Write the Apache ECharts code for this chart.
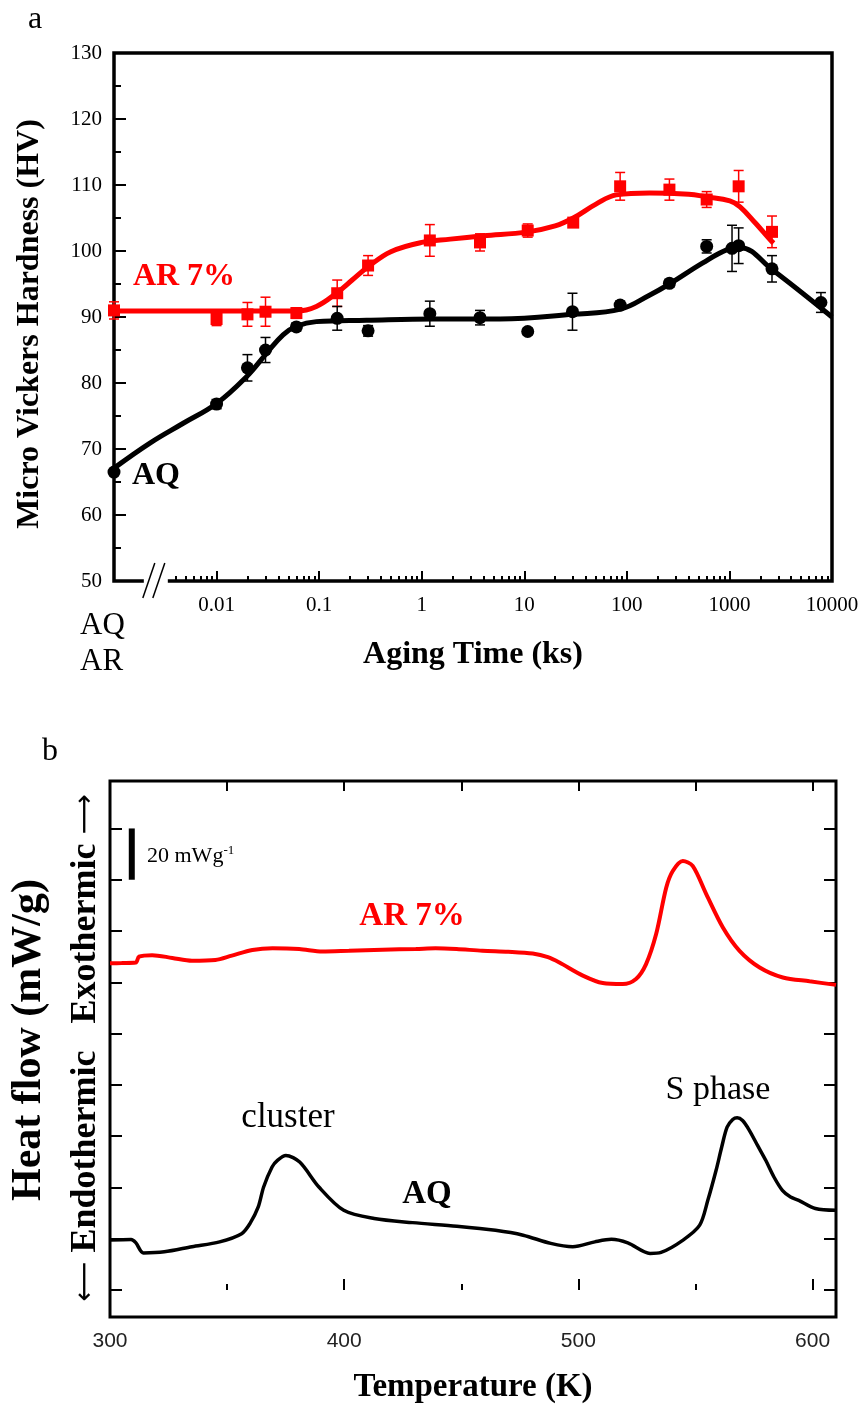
<!DOCTYPE html>
<html>
<head>
<meta charset="utf-8">
<script src="https://cdn.jsdelivr.net/npm/echarts@6/dist/echarts.min.js"></script>
<style>
html,body{margin:0;padding:0;background:#fff;}
#chart{width:865px;height:1410px;}
</style>
</head>
<body>
<div id="chart"></div>
<script>
// ---------- Panel a: micro Vickers hardness vs aging time ----------
const hvMajorTicks = [0.01, 0.1, 1, 10, 100, 1000, 10000];
const hvTickLabels = ['0.01', '0.1', '1', '10', '100', '1000', '10000'];
const hvMinorMultipliers = [2, 3, 4, 5, 6, 7, 8, 9];
const hvMinorDecades = [0.001, 0.01, 0.1, 1, 10, 100, 1000];
const hvYTicks = [50, 60, 70, 80, 90, 100, 110, 120, 130];

// AR 7% (red squares)
const arTime = [0.001, 0.01, 0.02, 0.03, 0.06, 0.15, 0.3, 1.2, 3.7, 10.8, 30, 86, 260, 600, 1230, 2600];
const arHV   = [91.0, 89.7, 90.4, 90.8, 90.6, 93.6, 97.8, 101.6, 101.3, 103.1, 104.3, 109.8, 109.3, 107.8, 109.8, 102.9];
const arErr  = [1.3, 1.0, 1.8, 2.2, 0.8, 2.0, 1.5, 2.4, 1.3, 1.0, 0.6, 2.1, 1.6, 1.2, 2.4, 2.4];
// AR 7% fitted curve
const arFitTime = [0.001, 0.01, 0.03, 0.06, 0.094, 0.15, 0.21, 0.3, 0.5, 1, 1.9, 4, 10.8, 20, 30, 50, 79, 166, 400, 600, 1010, 1270, 1800, 2500, 2700];
const arFitHV   = [90.9, 90.9, 90.9, 90.9, 91.6, 93.7, 95.6, 97.6, 99.9, 101.3, 101.8, 102.3, 102.9, 103.8, 105.0, 107.1, 108.5, 108.8, 108.6, 108.2, 107.6, 106.7, 104.2, 101.7, 101.2];

// AQ (black circles)
const aqTime = [0.001, 0.01, 0.02, 0.03, 0.06, 0.15, 0.3, 1.2, 3.7, 10.8, 29.5, 86, 260, 600, 1060, 1230, 2600, 7800];
const aqHV   = [66.5, 76.8, 82.3, 85.0, 88.5, 89.8, 87.9, 90.5, 89.9, 87.8, 90.8, 91.8, 95.1, 100.7, 100.4, 100.8, 97.3, 92.2];
const aqErr  = [0, 0.7, 2.0, 1.9, 0.6, 1.8, 0.8, 1.9, 1.1, 0.5, 2.8, 0.6, 0.6, 1.0, 3.5, 2.7, 2.0, 1.5];
// AQ fitted curve
const aqFitTime = [0.001, 0.00224, 0.00473, 0.01, 0.0197, 0.0307, 0.0445, 0.06, 0.094, 0.29, 1.3, 5.8, 29.6, 87, 166, 260, 550, 950, 1270, 2600, 10000];
const aqFitHV   = [67.1, 70.9, 73.9, 76.9, 81.0, 84.5, 87.3, 88.6, 89.3, 89.5, 89.7, 89.7, 90.4, 91.2, 93.3, 95.0, 98.2, 100.2, 100.5, 97.2, 90.0];

// axis break position on the time axis
const hvBreakTime = [0.0025];

// ---------- Panel b: DSC heat flow ----------
const tempMajorTicks = [300, 400, 500, 600];
const tempMinorTicks = [350, 450, 550];
const tempTopTicks = [350, 400, 450, 500, 550, 600];
const heatTicks = [0, 20, 40, 60, 80, 100, 120, 140, 160, 180];

const dscArT = [300, 305, 311, 312.4, 318, 326.6, 335, 345, 352, 360.8, 369.4, 380.8, 390.7, 402, 416.4, 430.6, 439, 448, 459, 470, 480.5, 487, 491.9, 501.9, 510.4, 519, 524.6, 528.9, 533.2, 537.5, 540.3, 544.6, 548.8, 554.6, 561.7, 568.8, 577.4, 587.3, 598.7, 610];
const dscArV = [127.4, 127.5, 127.7, 130.0, 130.6, 129.5, 128.4, 128.7, 130.4, 132.6, 133.3, 133.0, 132.0, 132.3, 132.7, 133.0, 133.3, 133.0, 132.3, 131.9, 131.2, 129.8, 127.7, 122.6, 119.7, 119.3, 121.3, 127.1, 138.8, 156.9, 163.4, 167.3, 165.4, 154.4, 141.4, 132.3, 125.8, 121.9, 120.4, 119.0];

const dscAqT = [300, 309, 311, 314.3, 323.2, 335, 346.8, 356.2, 359.8, 363.3, 365.6, 369.2, 371.5, 375.1, 381, 389.2, 399.8, 412.8, 429.2, 448.1, 464.6, 476.4, 488.2, 497.6, 507, 514.1, 521.1, 530.6, 535.3, 544.7, 551.8, 555.3, 558.8, 561.2, 563.5, 565.9, 567.8, 570.1, 573, 576.5, 580, 583.5, 587.1, 590.6, 594.1, 601.2, 610];
const dscAqV = [19.5, 19.7, 18.5, 14.5, 14.9, 16.9, 18.8, 22.0, 26.0, 32.4, 40.2, 48.0, 50.6, 52.5, 49.9, 40.2, 31.1, 27.9, 26.3, 24.9, 23.3, 21.4, 18.2, 16.9, 18.8, 19.8, 18.4, 14.3, 14.7, 19.5, 25.3, 35.1, 46.7, 55.8, 63.5, 66.5, 67.2, 66.1, 62.3, 56.4, 50.6, 44.1, 38.9, 36.3, 35.0, 31.8, 31.1];

// scale bar: 20 mW/g
const scaleBarT = [309.3];
const scaleBarFrom = [160];
const scaleBarTo = [180];

// ---------- build ----------
const SERIF = '"Liberation Serif","Times New Roman",serif';
const SANS = '"Liberation Sans",Arial,sans-serif';

const hvMinorTicks = [];
hvMinorDecades.forEach(d => hvMinorMultipliers.forEach(m => {
  const v = +(d * m).toPrecision(6);
  if (v > 0.0035 && v < 10000) hvMinorTicks.push(v);
}));

const pairs = (xs, ys) => xs.map((x, i) => [x, ys[i]]);
const errData = (xs, ys, es) => xs.map((x, i) => [x, ys[i] - es[i], ys[i] + es[i]]).filter((d, i) => es[i] > 0);

function errRender(color) {
  return function (params, api) {
    const x = api.value(0);
    const lo = api.coord([x, api.value(1)]);
    const hi = api.coord([x, api.value(2)]);
    const w = 5;
    const st = { stroke: color, lineWidth: 1.5 };
    return {
      type: 'group',
      children: [
        { type: 'line', shape: { x1: lo[0], y1: lo[1], x2: hi[0], y2: hi[1] }, style: st },
        { type: 'line', shape: { x1: hi[0] - w, y1: hi[1], x2: hi[0] + w, y2: hi[1] }, style: st },
        { type: 'line', shape: { x1: lo[0] - w, y1: lo[1], x2: lo[0] + w, y2: lo[1] }, style: st }
      ]
    };
  };
}

function breakRender(params, api) {
  const p = api.coord([api.value(0), 50]);
  const st = { stroke: '#000', lineWidth: 1.5 };
  return {
    type: 'group',
    children: [
      { type: 'rect', shape: { x: p[0] - 11, y: p[1] - 5, width: 24, height: 10 }, style: { fill: '#fff' } },
      { type: 'line', shape: { x1: p[0] - 12, y1: p[1] + 17, x2: p[0], y2: p[1] - 18 }, style: st },
      { type: 'line', shape: { x1: p[0] - 2, y1: p[1] + 17, x2: p[0] + 10, y2: p[1] - 18 }, style: st }
    ]
  };
}

function scaleBarRender(params, api) {
  const a = api.coord([api.value(0), api.value(1)]);
  const b = api.coord([api.value(0), api.value(2)]);
  return { type: 'rect', shape: { x: a[0] - 3, y: b[1], width: 6, height: a[1] - b[1] }, style: { fill: '#000' } };
}

const fmtHV = v => {
  const i = hvMajorTicks.findIndex(m => Math.abs(Math.log10(m) - Math.log10(v)) < 1e-6);
  return i >= 0 ? hvTickLabels[i] : '';
};

const tickStyle = { color: '#000', width: 2 };

const option = {
  backgroundColor: '#fff',
  animation: false,
  grid: [
    { left: 114, top: 53, width: 718, height: 528, show: true, borderColor: '#000', borderWidth: 3.5, backgroundColor: 'transparent' },
    { left: 110, top: 781, width: 726, height: 536, show: true, borderColor: '#000', borderWidth: 3, backgroundColor: 'transparent' }
  ],
  xAxis: [
    { // 0: panel a main time axis
      gridIndex: 0, type: 'log', logBase: 10, min: 0.001, max: 10000,
      axisLine: { show: false }, splitLine: { show: false },
      axisTick: { show: true, inside: true, length: 10, lineStyle: tickStyle, customValues: hvMajorTicks },
      axisLabel: { customValues: hvMajorTicks, formatter: fmtHV, fontFamily: SERIF, fontSize: 21, color: '#000', margin: 14 },
      name: 'Aging Time (ks)', nameLocation: 'middle', nameGap: 58,
      nameTextStyle: { fontFamily: SERIF, fontWeight: 'bold', fontSize: 32, color: '#000' }
    },
    { // 1: panel a minor ticks
      gridIndex: 0, type: 'log', logBase: 10, min: 0.001, max: 10000, position: 'bottom',
      axisLine: { show: false }, splitLine: { show: false }, axisLabel: { show: false },
      axisTick: { show: true, inside: true, length: 5, lineStyle: tickStyle, customValues: hvMinorTicks }
    },
    { // 2: panel b temperature axis
      gridIndex: 1, type: 'value', min: 300, max: 610,
      axisLine: { show: false }, splitLine: { show: false },
      axisTick: { show: true, inside: true, length: 11, lineStyle: tickStyle, customValues: tempMajorTicks },
      axisLabel: { customValues: tempMajorTicks, fontFamily: SANS, fontSize: 21, color: '#222', margin: 14 },
      name: 'Temperature (K)', nameLocation: 'middle', nameGap: 54,
      nameTextStyle: { fontFamily: SERIF, fontWeight: 'bold', fontSize: 33, color: '#000' }
    },
    { // 3: panel b minor ticks
      gridIndex: 1, type: 'value', min: 300, max: 610, position: 'bottom',
      axisLine: { show: false }, splitLine: { show: false }, axisLabel: { show: false },
      axisTick: { show: true, inside: true, length: 6, lineStyle: tickStyle, customValues: tempMinorTicks }
    },
    { // 4: panel b top ticks
      gridIndex: 1, type: 'value', min: 300, max: 610, position: 'top',
      axisLine: { show: false }, splitLine: { show: false }, axisLabel: { show: false },
      axisTick: { show: true, inside: true, length: 10, lineStyle: tickStyle, customValues: tempTopTicks }
    }
  ],
  yAxis: [
    { // 0: hardness
      gridIndex: 0, type: 'value', min: 50, max: 130, interval: 10,
      axisLine: { show: false }, splitLine: { show: false },
      axisTick: { show: true, inside: true, length: 12, lineStyle: tickStyle, customValues: hvYTicks },
      minorTick: { show: true, splitNumber: 2, length: 7, lineStyle: tickStyle },
      axisLabel: { customValues: hvYTicks, fontFamily: SERIF, fontSize: 21, color: '#000', margin: 12 }
    },
    { // 1: heat flow left
      gridIndex: 1, type: 'value', min: -10.5, max: 198.5,
      axisLine: { show: false }, splitLine: { show: false }, axisLabel: { show: false },
      axisTick: { show: true, inside: true, length: 12, lineStyle: tickStyle, customValues: heatTicks }
    },
    { // 2: heat flow right
      gridIndex: 1, type: 'value', min: -10.5, max: 198.5, position: 'right',
      axisLine: { show: false }, splitLine: { show: false }, axisLabel: { show: false },
      axisTick: { show: true, inside: true, length: 12, lineStyle: tickStyle, customValues: heatTicks }
    }
  ],
  series: [
    { type: 'line', xAxisIndex: 0, yAxisIndex: 0, data: pairs(arFitTime, arFitHV), smooth: 0.4, showSymbol: false, lineStyle: { color: '#ff0000', width: 5 }, z: 2 },
    { type: 'line', xAxisIndex: 0, yAxisIndex: 0, data: pairs(aqFitTime, aqFitHV), smooth: 0.4, showSymbol: false, lineStyle: { color: '#000', width: 5 }, z: 2 },
    { type: 'custom', xAxisIndex: 0, yAxisIndex: 0, data: errData(arTime, arHV, arErr), renderItem: errRender('#ff0000'), encode: { x: 0, y: [1, 2] }, z: 3 },
    { type: 'custom', xAxisIndex: 0, yAxisIndex: 0, data: errData(aqTime, aqHV, aqErr), renderItem: errRender('#000'), encode: { x: 0, y: [1, 2] }, z: 3 },
    { type: 'scatter', xAxisIndex: 0, yAxisIndex: 0, data: pairs(arTime, arHV), symbol: 'rect', symbolSize: 12, itemStyle: { color: '#ff0000', opacity: 1 }, z: 4 },
    { type: 'scatter', xAxisIndex: 0, yAxisIndex: 0, data: pairs(aqTime, aqHV), symbol: 'circle', symbolSize: 13, itemStyle: { color: '#000', opacity: 1 }, z: 4 },
    { type: 'custom', xAxisIndex: 0, yAxisIndex: 0, data: hvBreakTime.map(t => [t]), renderItem: breakRender, clip: false, z: 10, silent: true },
    { type: 'line', xAxisIndex: 2, yAxisIndex: 1, data: pairs(dscArT, dscArV), smooth: 0.3, showSymbol: false, lineStyle: { color: '#ff0000', width: 4 } },
    { type: 'line', xAxisIndex: 2, yAxisIndex: 1, data: pairs(dscAqT, dscAqV), smooth: 0.3, showSymbol: false, lineStyle: { color: '#000', width: 3.5 } },
    { type: 'custom', xAxisIndex: 2, yAxisIndex: 1, data: scaleBarT.map((t, i) => [t, scaleBarFrom[i], scaleBarTo[i]]), renderItem: scaleBarRender, encode: { x: 0, y: [1, 2] } }
  ],
  graphic: { elements: [
    { type: 'text', x: 35, y: 20, z: 100, style: { text: 'a', fontFamily: SERIF, fontSize: 32, fill: '#000', align: 'center', verticalAlign: 'middle' } },
    { type: 'text', x: 30, y: 324, rotation: Math.PI / 2, z: 100, style: { text: 'Micro Vickers Hardness (HV)', fontFamily: SERIF, fontWeight: 'bold', fontSize: 32, fill: '#000', align: 'center', verticalAlign: 'middle' } },
    { type: 'text', x: 184, y: 277, z: 100, style: { text: 'AR 7%', fontFamily: SERIF, fontWeight: 'bold', fontSize: 32, fill: '#ff0000', align: 'center', verticalAlign: 'middle' } },
    { type: 'text', x: 156, y: 476, z: 100, style: { text: 'AQ', fontFamily: SERIF, fontWeight: 'bold', fontSize: 32, fill: '#000', align: 'center', verticalAlign: 'middle' } },
    { type: 'text', x: 80, y: 626, z: 100, style: { text: 'AQ', fontFamily: SERIF, fontSize: 31, fill: '#000', align: 'left', verticalAlign: 'middle' } },
    { type: 'text', x: 80, y: 662, z: 100, style: { text: 'AR', fontFamily: SERIF, fontSize: 31, fill: '#000', align: 'left', verticalAlign: 'middle' } },
    { type: 'text', x: 50, y: 752, z: 100, style: { text: 'b', fontFamily: SERIF, fontSize: 32, fill: '#000', align: 'center', verticalAlign: 'middle' } },
    { type: 'text', x: 29, y: 1040, rotation: Math.PI / 2, z: 100, style: { text: 'Heat flow (mW/g)', fontFamily: SERIF, fontWeight: 'bold', fontSize: 42, fill: '#000', align: 'center', verticalAlign: 'middle' } },
    { type: 'text', x: 86, y: 1048, rotation: Math.PI / 2, z: 100, style: {
        text: '{a|⟵} {b|Endothermic}   {b|Exothermic} {a|⟶}',
        fontFamily: SERIF, fontWeight: 'bold', fontSize: 36, fill: '#000', align: 'center', verticalAlign: 'middle',
        rich: { a: { fontFamily: '"DejaVu Sans",sans-serif', fontWeight: 'normal', fontSize: 28, fill: '#000' }, b: { fontFamily: SERIF, fontWeight: 'bold', fontSize: 36, fill: '#000' } } } },
    { type: 'text', x: 147, y: 856, z: 100, style: {
        text: '20 mWg{s|-1}', fontFamily: SERIF, fontSize: 22, fill: '#000', align: 'left', verticalAlign: 'middle',
        rich: { s: { fontFamily: SERIF, fontSize: 13, fill: '#000', verticalAlign: 'top', padding: [0, 0, 10, 0] } } } },
    { type: 'text', x: 412, y: 916, z: 100, style: { text: 'AR 7%', fontFamily: SERIF, fontWeight: 'bold', fontSize: 33, fill: '#ff0000', align: 'center', verticalAlign: 'middle' } },
    { type: 'text', x: 288, y: 1118, z: 100, style: { text: 'cluster', fontFamily: SERIF, fontSize: 35, fill: '#000', align: 'center', verticalAlign: 'middle' } },
    { type: 'text', x: 427, y: 1194, z: 100, style: { text: 'AQ', fontFamily: SERIF, fontWeight: 'bold', fontSize: 33, fill: '#000', align: 'center', verticalAlign: 'middle' } },
    { type: 'text', x: 718, y: 1090, z: 100, style: { text: 'S phase', fontFamily: SERIF, fontSize: 34, fill: '#000', align: 'center', verticalAlign: 'middle' } }
  ] }
};

const chart = echarts.init(document.getElementById('chart'), null, { renderer: 'canvas' });
chart.setOption(option);
</script>
</body>
</html>
